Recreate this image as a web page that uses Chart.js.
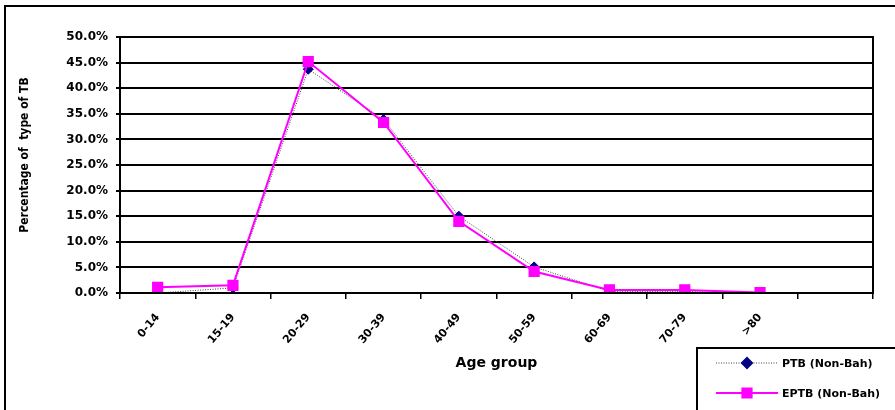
<!DOCTYPE html>
<html>
<head>
<meta charset="utf-8">
<script src="https://cdn.jsdelivr.net/npm/chart.js@4/dist/chart.umd.min.js"></script>
<style>
  html, body { margin: 0; padding: 0; background: #fff; }
  #wrap { width: 895px; height: 410px; position: relative; }
</style>
</head>
<body>
<div id="wrap"><canvas id="chart" width="895" height="410"></canvas></div>
<script>
// ===== Data =====
const ageGroups = ['0-14', '15-19', '20-29', '30-39', '40-49', '50-59', '60-69', '70-79', '>80', ''];
const ptbValues = [0.0, 1.0, 43.7, 33.9, 15.0, 5.1, 0.3, 0.3, 0.0];
const eptbValues = [1.1, 1.5, 45.2, 33.3, 14.0, 4.2, 0.6, 0.6, 0.1];
const yTicks = [0, 5, 10, 15, 20, 25, 30, 35, 40, 45, 50];

const FONT = '"DejaVu Sans", Verdana, sans-serif';
const Y_TITLE = 'Percentage of  type of TB';

// frame round the whole chart, plot box, y title and the legend box
const framePlugin = {
    id: 'frame',
    afterDraw(chart) {
        const ctx = chart.ctx;
        const a = chart.chartArea;
        ctx.save();
        ctx.strokeStyle = '#000';
        ctx.lineWidth = 2;
        ctx.strokeRect(5, 6, 900, 420);
        ctx.strokeRect(a.left, a.top, a.right - a.left, a.bottom - a.top);

        // y title (sits a bit above the plot centre in the original)
        ctx.save();
        ctx.translate(25, 155);
        ctx.rotate(-Math.PI / 2);
        ctx.fillStyle = '#000';
        ctx.font = 'bold 12px "DejaVu Sans Condensed", ' + FONT;
        ctx.textAlign = 'center';
        ctx.textBaseline = 'middle';
        ctx.fillText(Y_TITLE, 0, 0);
        ctx.restore();

        // legend
        ctx.strokeRect(697, 348, 220, 80);
        const rows = [363, 393];
        chart.data.datasets.forEach((ds, i) => {
            const y = rows[i];
            ctx.save();
            ctx.strokeStyle = ds.borderColor;
            ctx.lineWidth = ds.borderWidth;
            ctx.setLineDash(ds.borderDash || []);
            ctx.beginPath();
            ctx.moveTo(716, y);
            ctx.lineTo(778, y);
            ctx.stroke();
            ctx.restore();

            ctx.save();
            ctx.fillStyle = ds.pointBackgroundColor;
            ctx.strokeStyle = ds.pointBorderColor;
            Chart.helpers.drawPoint(ctx, { pointStyle: ds.pointStyle, radius: ds.pointRadius, borderWidth: 1 }, 747, y);
            ctx.restore();

            ctx.fillStyle = '#000';
            ctx.font = 'bold 11px ' + FONT;
            ctx.textBaseline = 'middle';
            ctx.fillText(ds.label, 782, y + 1);
        });
        ctx.restore();
    }
};

new Chart(document.getElementById('chart'), {
    type: 'line',
    data: {
        labels: ageGroups,
        datasets: [
            {
                label: 'PTB (Non-Bah)',
                data: ptbValues,
                borderColor: '#444',
                borderWidth: 1,
                borderDash: [1, 1.5],
                pointStyle: 'rectRot',
                pointRadius: 5,
                pointBackgroundColor: '#000080',
                pointBorderColor: '#000080',
                backgroundColor: '#000080',
                tension: 0,
                order: 2
            },
            {
                label: 'EPTB (Non-Bah)',
                data: eptbValues,
                borderColor: '#ff00ff',
                borderWidth: 2,
                pointStyle: 'rect',
                pointRadius: 6.5,
                pointBackgroundColor: '#ff00ff',
                pointBorderColor: '#ff00ff',
                backgroundColor: '#ff00ff',
                tension: 0,
                order: 1
            }
        ]
    },
    options: {
        responsive: false,
        animation: false,
        layout: { padding: { left: 12, top: 37, right: 22, bottom: 0 } },
        plugins: {
            legend: { display: false },
            tooltip: { enabled: false }
        },
        scales: {
            x: {
                offset: true,
                grid: { offset: true, drawOnChartArea: false, drawTicks: true, tickLength: 6, color: '#000', lineWidth: 1.5 },
                border: { display: true, color: '#000', width: 2 },
                ticks: {
                    color: '#000',
                    font: { family: FONT, size: 11, weight: 'bold' },
                    minRotation: 50,
                    maxRotation: 50,
                    padding: 12,
                    autoSkip: false
                },
                title: {
                    display: true,
                    text: 'Age group',
                    color: '#000',
                    font: { family: FONT, size: 14, weight: 'bold' },
                    padding: { top: 0, bottom: 38 }
                },
                afterFit: s => { s.height = 117; }
            },
            y: {
                min: 0,
                max: 50,
                afterBuildTicks: s => { s.ticks = yTicks.map(v => ({ value: v })); },
                grid: { color: '#000', lineWidth: 2, tickLength: 4, drawTicks: true },
                border: { display: true, color: '#000', width: 2 },
                ticks: {
                    color: '#000',
                    font: { family: FONT, size: 12, weight: 'bold' },
                    padding: 8,
                    callback: v => v.toFixed(1) + '%'
                },
                afterFit: s => { s.width = 108; }
            }
        }
    },
    plugins: [framePlugin]
});
</script>
</body>
</html>
